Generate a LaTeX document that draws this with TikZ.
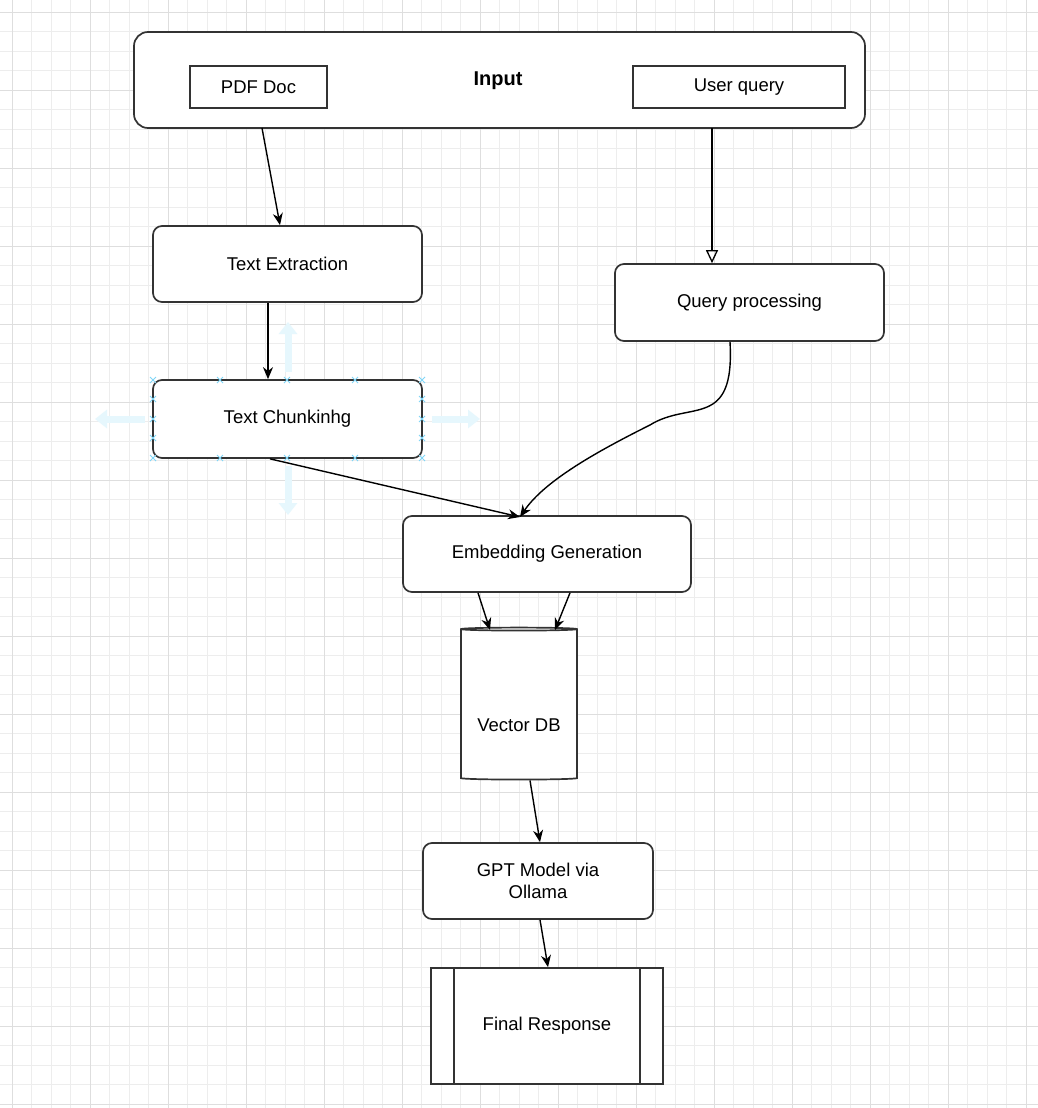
\documentclass[tikz,border=0pt]{standalone}
\usepackage{fontspec}
\setmainfont{Liberation Sans}
\usetikzlibrary{arrows.meta,shapes.geometric}
\begin{document}
\begin{tikzpicture}[x=1pt,y=-1pt,
  box/.style={draw=black!80,line width=1.7pt,rounded corners=9pt,fill=white,font=\fontsize{18.5}{21}\selectfont},
  sbox/.style={draw=black!80,line width=1.7pt,fill=white,font=\fontsize{18.5}{21}\selectfont},
  arr/.style={-{Stealth[length=12pt,width=10pt]},line width=1.4pt},
  ghost/.style={-{Triangle[length=12pt,width=18pt]},line width=7pt,draw=cyan!10},
  mk/.style={draw=cyan!50,line width=0.8pt}]
\useasboundingbox (0,0) rectangle (1038,1108);
\fill[white] (0,0) rectangle (1038,1108);
\foreach \i in {0,...,53} {\draw[black!7,line width=0.6pt] (12+\i*19.5,0) -- (12+\i*19.5,1108);}
\foreach \i in {0,...,57} {\draw[black!7,line width=0.6pt] (0,12+\i*19.5) -- (1038,12+\i*19.5);}
\foreach \i in {0,...,13} {\draw[black!13,line width=0.8pt] (12+\i*78,0) -- (12+\i*78,1108);}
\foreach \i in {0,...,14} {\draw[black!13,line width=0.8pt] (0,12+\i*78) -- (1038,12+\i*78);}
% input
\node[box,minimum width=731pt,minimum height=96pt,rounded corners=14pt] (in) at (499.5,80) {};
\node[font=\fontsize{20}{23}\selectfont\bfseries] (inl) at (498,81) {Input};
\node[sbox,minimum width=137pt,minimum height=42pt] (pdf) at (258.5,87) {PDF Doc};
\node[sbox,minimum width=212pt,minimum height=42pt] (uq) at (739,87) {User query};
\node[box,minimum width=269pt,minimum height=76pt] (te) at (287.5,264) {Text Extraction};
\node[box,minimum width=269pt,minimum height=77pt] (qp) at (749.5,302.5) {Query processing};
% ghost arrows
\draw[ghost] (288,372) -- (288,322);
\draw[ghost] (288,466) -- (288,515);
\draw[ghost] (145,419) -- (95,419);
\draw[ghost] (432,419) -- (480,419);
\node[box,minimum width=269pt,minimum height=78pt] (tc) at (287.5,419) {Text Chunkinhg};
\foreach \x in {153,220,287,355,422} {\foreach \y in {380,458} {\draw[mk] (\x-3,\y-3)--(\x+3,\y+3) (\x-3,\y+3)--(\x+3,\y-3);}}
\foreach \y in {399,419,438} {\foreach \x in {153,422} {\draw[mk] (\x-3,\y-3)--(\x+3,\y+3) (\x-3,\y+3)--(\x+3,\y-3);}}
\node[box,minimum width=288pt,minimum height=76pt] (eg) at (547,554) {Embedding Generation};
\node[draw=black!80,line width=1.7pt,fill=white,cylinder,shape border rotate=90,aspect=0.45,minimum width=116pt,minimum height=152pt] (db) at (519,705) {};
\node[font=\fontsize{18.5}{21}\selectfont] (dbl) at (519,725) {Vector DB};
\node[box,minimum width=230pt,minimum height=76pt,align=center,font=\fontsize{18.5}{22}\selectfont] (gpt) at (538,881) {GPT Model via\\Ollama};
\node[sbox,minimum width=232pt,minimum height=116pt] (fr) at (547,1026) {Final Response};
\draw[line width=1.7pt,black!80] ([xshift=24pt]fr.north west) -- ([xshift=24pt]fr.south west) ([xshift=-24pt]fr.north east) -- ([xshift=-24pt]fr.south east);
% connectors
\draw[arr] (262,128) -- (te.north -| 280,0);
\draw[-{Triangle[open,length=13pt,width=12pt]},line width=1.3pt] (712,128) -- (qp.north -| 712,0);
\draw[arr] (te.south -| 268,0) -- (tc.north -| 268,0);
\coordinate (egin) at (520,517);
\draw[arr] (tc.south -| 270,0) -- (egin);
\draw[arr] (qp.south -| 730,0) .. controls (735,430) and (690,400) .. (650,425) .. controls (600,450) and (545,480) .. (egin);
\draw[arr] (eg.south -| 478,0) -- (490,630);
\draw[arr] (eg.south -| 570,0) -- (555,630);
\draw[arr] (db.south -| 530,0) -- (gpt.north -| 540,0);
\draw[arr] (gpt.south -| 540,0) -- (fr.north -| 548,0);
\end{tikzpicture}
\end{document}
